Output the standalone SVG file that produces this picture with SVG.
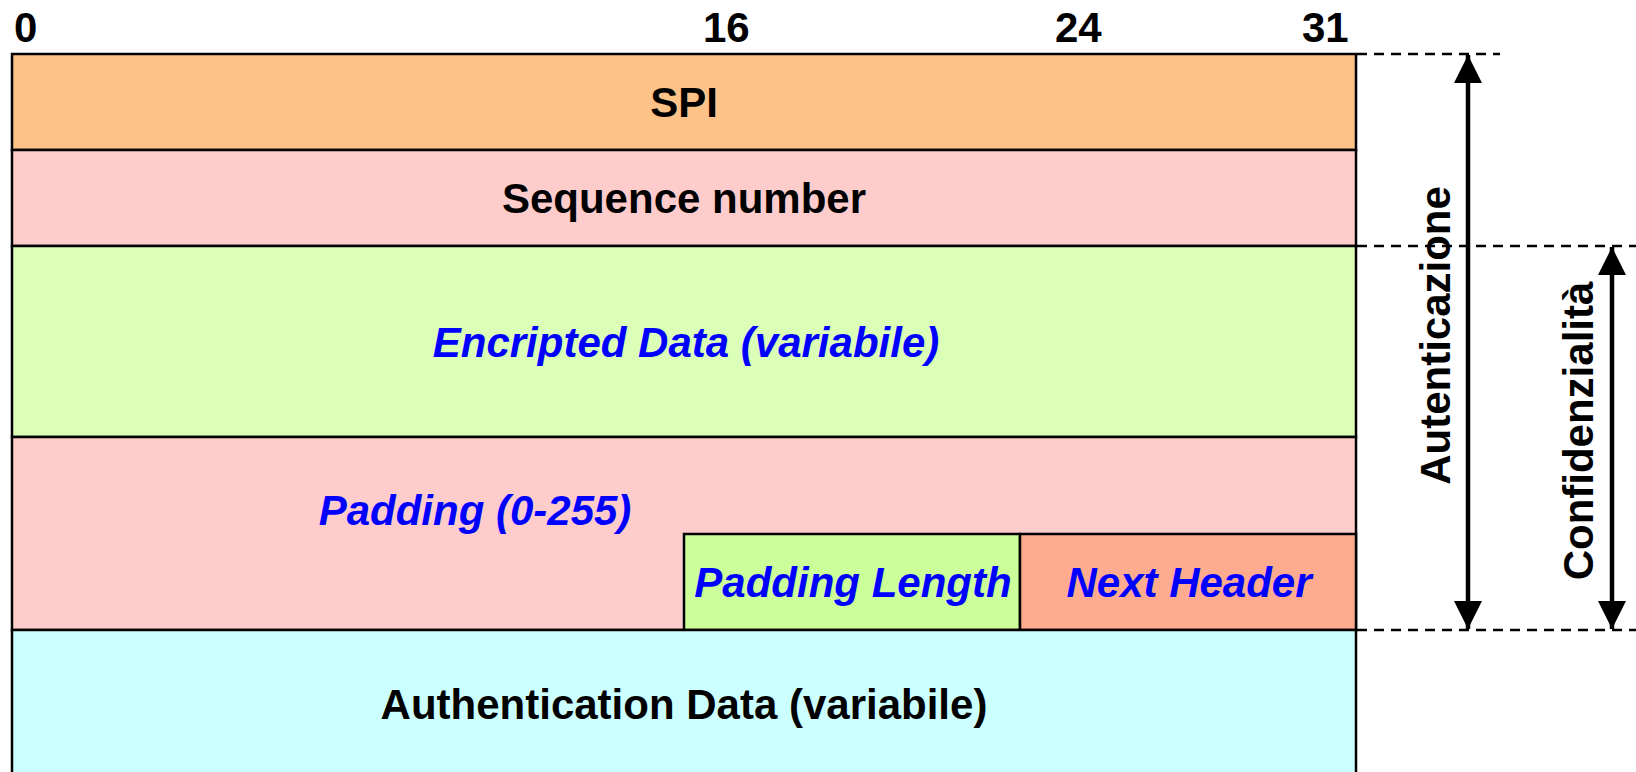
<svg xmlns="http://www.w3.org/2000/svg" width="1636" height="772" viewBox="0 0 1636 772">
<style>
.box{stroke:#000;stroke-width:2.5}
.t{font-family:"Liberation Sans",Arial,sans-serif;font-weight:bold;font-size:42px;fill:#000}
.b{fill:#0000FF;font-style:italic}
.dash{stroke:#000;stroke-width:2.5;stroke-dasharray:10 7;fill:none}
.arr{stroke:#000;stroke-width:4.5;fill:none}
</style>
<defs>
<marker id="ah" viewBox="0 0 28 28" refX="28" refY="14" markerWidth="28" markerHeight="28" markerUnits="userSpaceOnUse" orient="auto-start-reverse">
<path d="M0,0 L28,14 L0,28 Z" fill="#000"/>
</marker>
</defs>
<rect width="1636" height="772" fill="#fff"/>
<g id="bits">
<text class="t" x="14" y="42">0</text>
<text class="t" x="703" y="42">16</text>
<text class="t" x="1055" y="42">24</text>
<text class="t" x="1302" y="42">31</text>
</g>
<g id="spi">
<rect class="box" x="12" y="54" width="1344" height="96" fill="#FDC288"/>
<text class="t" x="684" y="117" text-anchor="middle">SPI</text>
</g>
<g id="seq">
<rect class="box" x="12" y="150" width="1344" height="96" fill="#FFCCCC"/>
<text class="t" x="684" y="213" text-anchor="middle">Sequence number</text>
</g>
<g id="enc">
<rect class="box" x="12" y="246" width="1344" height="191" fill="#DBFFB7"/>
<text class="t b" x="686" y="357" text-anchor="middle">Encripted Data (variabile)</text>
</g>
<g id="padding">
<rect class="box" x="12" y="437" width="1344" height="193" fill="#FFCCCC"/>
<text class="t b" x="475" y="525" text-anchor="middle">Padding (0-255)</text>
</g>
<g id="padlen">
<rect class="box" x="684" y="534" width="336" height="96" fill="#CCFF99"/>
<text class="t b" x="853" y="597" text-anchor="middle">Padding Length</text>
</g>
<g id="nexthdr">
<rect class="box" x="1020" y="534" width="336" height="96" fill="#FFAB8F"/>
<text class="t b" x="1189" y="597" text-anchor="middle">Next Header</text>
</g>
<g id="auth">
<rect class="box" x="12" y="630" width="1344" height="160" fill="#CCFFFF"/>
<text class="t" x="684" y="719" text-anchor="middle">Authentication Data (variabile)</text>
</g>
<g id="connectors">
<line class="dash" x1="1357" y1="54" x2="1500" y2="54"/>
<line class="dash" x1="1357" y1="246" x2="1636" y2="246"/>
<line class="dash" x1="1357" y1="630" x2="1636" y2="630"/>
<line class="arr" x1="1468" y1="55" x2="1468" y2="629" marker-start="url(#ah)" marker-end="url(#ah)"/>
<line class="arr" x1="1612" y1="247" x2="1612" y2="629" marker-start="url(#ah)" marker-end="url(#ah)"/>
</g>
<g id="labels">
<text class="t" transform="translate(1450,335.5) rotate(-90)" text-anchor="middle">Autenticazione</text>
<text class="t" transform="translate(1593,431) rotate(-90)" text-anchor="middle">Confidenzialità</text>
</g>
</svg>
